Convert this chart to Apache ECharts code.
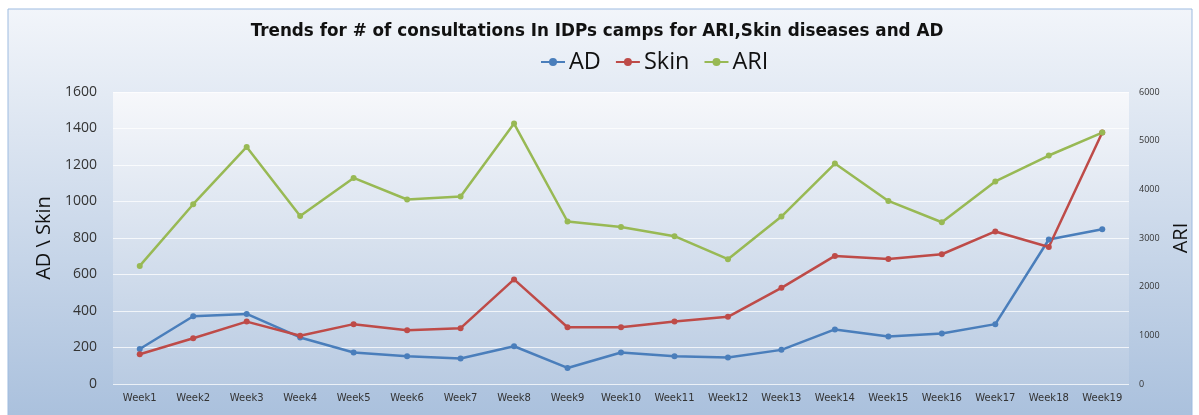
<!DOCTYPE html>
<html>
<head>
<meta charset="utf-8">
<script src="https://cdn.jsdelivr.net/npm/echarts@6/dist/echarts.min.js"></script>
<style>
html,body{margin:0;padding:0;background:#fff;}
#main{width:1199px;height:415px;}
</style>
</head>
<body>
<div id="main"></div>
<script>
var weeks=['Week1','Week2','Week3','Week4','Week5','Week6','Week7','Week8','Week9','Week10',
  'Week11','Week12','Week13','Week14','Week15','Week16','Week17','Week18','Week19'];
var adData=[192,371,384,255,173,152,140,207,88,173,152,145,187,299,260,277,328,792,848];
var skinData=[163,251,342,264,328,295,306,573,311,311,342,368,527,702,685,711,836,751,1378];
var ariData=[2427,3694,4872,3454,4235,3791,3852,5352,3339,3228,3037,2564,3441,4530,3762,3324,4161,4695,5167];

var chart=echarts.init(document.getElementById('main'));
var font='"Open Sans", sans-serif';
var wide='"DejaVu Sans", sans-serif';

var option={
    animation:false,
    textStyle:{fontFamily:font},
    graphic:[{
        type:'rect',
        z:-10,
        shape:{x:8,y:9,width:1184,height:420},
        style:{
            fill:new echarts.graphic.LinearGradient(0,0,0,1,[
                {offset:0,color:'#f2f5fa'},
                {offset:1,color:'#a8bfdc'}
            ]),
            stroke:'#9dbbe0',
            lineWidth:1
        }
    }],
    title:{
        text:'Trends for # of consultations In IDPs camps for ARI,Skin diseases and AD',
        left:592,
        textAlign:'center',
        top:18,
        textStyle:{fontSize:16.8,fontWeight:'bold',color:'#111',fontFamily:wide}
    },
    legend:{
        data:['AD','Skin','ARI'],
        left:540,
        top:50,
        padding:0,
        itemWidth:24,
        itemHeight:10,
        itemGap:14,
        textStyle:{fontSize:23.5,color:'#111',fontFamily:font,padding:[0,0,0,-1]}
    },
    grid:{
        left:113,
        right:68,
        top:92,
        bottom:31,
        show:true,
        borderWidth:0,
        backgroundColor:new echarts.graphic.LinearGradient(0,0,0,1,[
            {offset:0,color:'#f7f8fb'},
            {offset:1,color:'#b9cbe2'}
        ])
    },
    xAxis:{
        type:'category',
        data:weeks,
        boundaryGap:true,
        axisLine:{show:false},
        axisTick:{show:false},
        axisLabel:{fontSize:10,color:'#333',margin:9,interval:0,fontFamily:wide}
    },
    yAxis:[{
        type:'value',
        min:0,
        max:1600,
        interval:200,
        name:'AD \\ Skin',
        nameLocation:'middle',
        nameGap:51,
        nameTextStyle:{fontSize:20,color:'#111'},
        axisLine:{show:false},
        axisTick:{show:false},
        axisLabel:{fontSize:14,color:'#333',margin:16,formatter:function(v){return String(v);}},
        splitLine:{lineStyle:{color:'rgba(255,255,255,0.75)',width:1}}
    },{
        type:'value',
        min:0,
        max:6000,
        interval:1000,
        name:'ARI',
        nameLocation:'middle',
        nameGap:42,
        nameRotate:90,
        nameTextStyle:{fontSize:20,color:'#111'},
        axisLine:{show:false},
        axisTick:{show:false},
        axisLabel:{fontSize:9,color:'#333',margin:10,formatter:function(v){return String(v);}},
        splitLine:{show:false}
    }],
    series:[{
        name:'AD',
        type:'line',
        data:adData,
        yAxisIndex:0,
        symbol:'circle',
        symbolSize:6,
        color:'#4a7ebb',
        lineStyle:{width:2.5}
    },{
        name:'Skin',
        type:'line',
        data:skinData,
        yAxisIndex:0,
        symbol:'circle',
        symbolSize:6,
        color:'#be4b48',
        lineStyle:{width:2.5}
    },{
        name:'ARI',
        type:'line',
        data:ariData,
        yAxisIndex:1,
        symbol:'circle',
        symbolSize:6,
        color:'#98b954',
        lineStyle:{width:2.5}
    }]
};
chart.setOption(option);
</script>
</body>
</html>
